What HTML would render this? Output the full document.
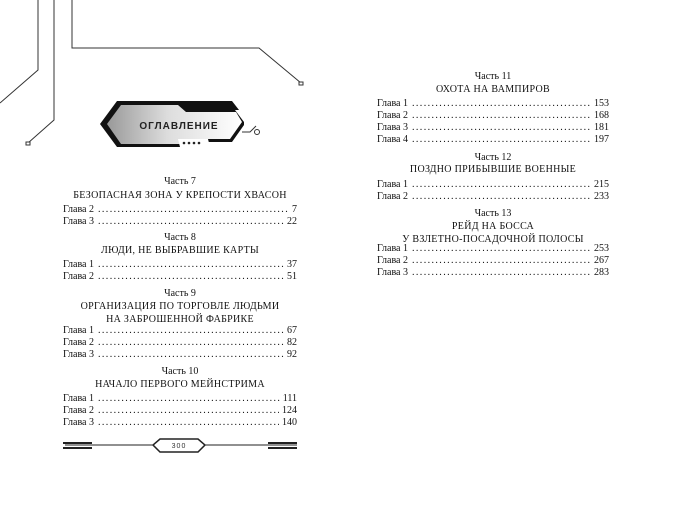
<!DOCTYPE html>
<html><head><meta charset="utf-8"><style>
body{margin:0;width:674px;height:505px;background:#fff;position:relative;overflow:hidden;font-family:"Liberation Serif",serif;color:#111}
.t{position:absolute;font-size:10px;line-height:12px;white-space:nowrap}
.c{text-align:center}
.r{display:flex}
.r .d{flex:1;overflow:hidden;letter-spacing:1.4px;margin:0 3px 0 4px}
.r .d:before{content:"........................................................................................................................"}
.h{letter-spacing:0.3px}
</style></head><body>
<svg width="674" height="505" style="position:absolute;left:0;top:0">
<defs><linearGradient id="g" x1="0" x2="1"><stop offset="0" stop-color="#999"/><stop offset=".45" stop-color="#ddd"/><stop offset="1" stop-color="#fff"/></linearGradient></defs>
<g fill="none" stroke="#333" stroke-width="1">
<polyline points="38,0 38,70 0,103"/>
<polyline points="54,0 54,120 28,143"/>
<polyline points="72,0 72,48 259,48 301,83"/>
<rect x="26" y="142" width="4" height="3" fill="#fff"/>
<rect x="299" y="82" width="4" height="3" fill="#fff"/>
</g>
<polygon points="117,101 187,101 192,106 232,106 244,122 244,125 232,142 190,142 186,147 117,147 100,124" fill="#111"/>
<polygon points="121,105 178,105 186,112 236,112 242,122 230,139 192,139 186,144 121,144 107,124" fill="url(#g)"/>
<polygon points="180,101 232,101 239,110 190,110" fill="#111"/>
<polygon points="178,139 208,139 210,147 180,147" fill="#fff"/>
<polyline points="242,132 250,132 256,126" fill="none" stroke="#333"/>
<circle cx="257" cy="132" r="2.5" fill="#fff" stroke="#333"/>
<g fill="#222"><circle cx="184" cy="143" r="1.3"/><circle cx="189" cy="143" r="1.3"/><circle cx="194" cy="143" r="1.3"/><circle cx="199" cy="143" r="1.3"/></g>
<text x="179" y="129" font-family="Liberation Sans" font-weight="bold" font-size="10" letter-spacing="1" text-anchor="middle" fill="#222">ОГЛАВЛЕНИЕ</text>
<g stroke="#222" fill="none">
<line x1="65" y1="445" x2="153" y2="445" stroke-width="1"/>
<line x1="205" y1="445" x2="297" y2="445"/>
<line x1="63" y1="443" x2="92" y2="443" stroke-width="2"/><line x1="63" y1="448" x2="92" y2="448" stroke-width="2"/>
<line x1="268" y1="443" x2="297" y2="443" stroke-width="2"/><line x1="268" y1="448" x2="297" y2="448" stroke-width="2"/>
<polygon points="160,439 198,439 205,445 198,452 160,452 153,445" stroke-width="1.5" fill="#fff"/>
</g>
<text x="179" y="448" font-family="Liberation Sans" font-size="7" text-anchor="middle" fill="#333" letter-spacing="1">300</text>
</svg>

<div class="t c" style="left:62px;width:236px;top:176px">Часть 7</div>
<div class="t c h" style="left:62px;width:236px;top:190px">БЕЗОПАСНАЯ ЗОНА У КРЕПОСТИ ХВАСОН</div>
<div class="t r" style="left:63px;width:234px;top:204px"><span>Глава 2</span><span class="d"></span><span>7</span></div>
<div class="t r" style="left:63px;width:234px;top:216px"><span>Глава 3</span><span class="d"></span><span>22</span></div>
<div class="t c" style="left:62px;width:236px;top:232px">Часть 8</div>
<div class="t c h" style="left:62px;width:236px;top:245px">ЛЮДИ, НЕ ВЫБРАВШИЕ КАРТЫ</div>
<div class="t r" style="left:63px;width:234px;top:259px"><span>Глава 1</span><span class="d"></span><span>37</span></div>
<div class="t r" style="left:63px;width:234px;top:271px"><span>Глава 2</span><span class="d"></span><span>51</span></div>
<div class="t c" style="left:62px;width:236px;top:288px">Часть 9</div>
<div class="t c h" style="left:62px;width:236px;top:301px">ОРГАНИЗАЦИЯ ПО ТОРГОВЛЕ ЛЮДЬМИ</div>
<div class="t c h" style="left:62px;width:236px;top:314px">НА ЗАБРОШЕННОЙ ФАБРИКЕ</div>
<div class="t r" style="left:63px;width:234px;top:325px"><span>Глава 1</span><span class="d"></span><span>67</span></div>
<div class="t r" style="left:63px;width:234px;top:337px"><span>Глава 2</span><span class="d"></span><span>82</span></div>
<div class="t r" style="left:63px;width:234px;top:349px"><span>Глава 3</span><span class="d"></span><span>92</span></div>
<div class="t c" style="left:62px;width:236px;top:366px">Часть 10</div>
<div class="t c h" style="left:62px;width:236px;top:379px">НАЧАЛО ПЕРВОГО МЕЙНСТРИМА</div>
<div class="t r" style="left:63px;width:234px;top:393px"><span>Глава 1</span><span class="d"></span><span>111</span></div>
<div class="t r" style="left:63px;width:234px;top:405px"><span>Глава 2</span><span class="d"></span><span>124</span></div>
<div class="t r" style="left:63px;width:234px;top:417px"><span>Глава 3</span><span class="d"></span><span>140</span></div>

<div class="t c" style="left:376px;width:234px;top:71px">Часть 11</div>
<div class="t c h" style="left:376px;width:234px;top:84px">ОХОТА НА ВАМПИРОВ</div>
<div class="t r" style="left:377px;width:232px;top:98px"><span>Глава 1</span><span class="d"></span><span>153</span></div>
<div class="t r" style="left:377px;width:232px;top:110px"><span>Глава 2</span><span class="d"></span><span>168</span></div>
<div class="t r" style="left:377px;width:232px;top:122px"><span>Глава 3</span><span class="d"></span><span>181</span></div>
<div class="t r" style="left:377px;width:232px;top:134px"><span>Глава 4</span><span class="d"></span><span>197</span></div>
<div class="t c" style="left:376px;width:234px;top:152px">Часть 12</div>
<div class="t c h" style="left:376px;width:234px;top:164px">ПОЗДНО ПРИБЫВШИЕ ВОЕННЫЕ</div>
<div class="t r" style="left:377px;width:232px;top:179px"><span>Глава 1</span><span class="d"></span><span>215</span></div>
<div class="t r" style="left:377px;width:232px;top:191px"><span>Глава 2</span><span class="d"></span><span>233</span></div>
<div class="t c" style="left:376px;width:234px;top:208px">Часть 13</div>
<div class="t c h" style="left:376px;width:234px;top:221px">РЕЙД НА БОССА</div>
<div class="t c h" style="left:376px;width:234px;top:234px">У ВЗЛЕТНО-ПОСАДОЧНОЙ ПОЛОСЫ</div>
<div class="t r" style="left:377px;width:232px;top:243px"><span>Глава 1</span><span class="d"></span><span>253</span></div>
<div class="t r" style="left:377px;width:232px;top:255px"><span>Глава 2</span><span class="d"></span><span>267</span></div>
<div class="t r" style="left:377px;width:232px;top:267px"><span>Глава 3</span><span class="d"></span><span>283</span></div>
</body></html>
